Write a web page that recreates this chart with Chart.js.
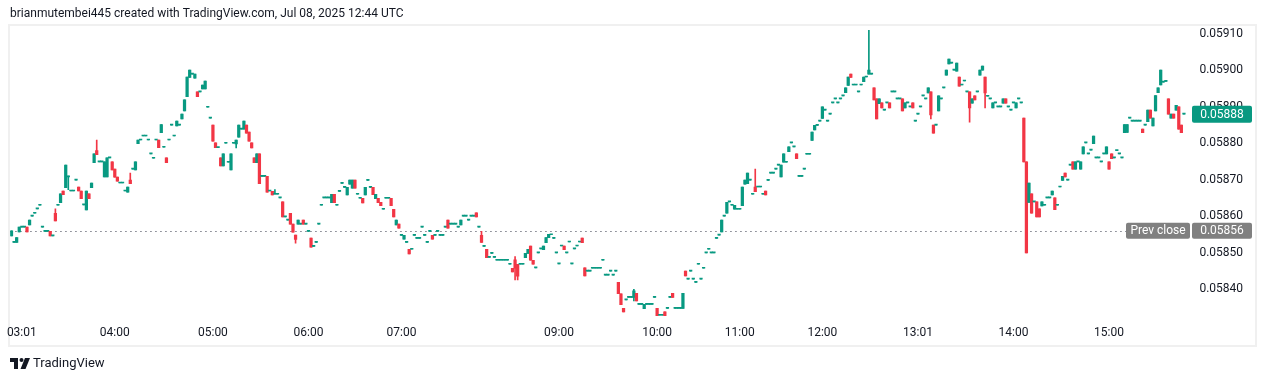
<!DOCTYPE html>
<html><head><meta charset="utf-8">
<script src="https://cdn.jsdelivr.net/npm/chart.js@4.4.1/dist/chart.umd.min.js"></script>
<style>html,body{margin:0;padding:0;background:#fff;overflow:hidden}canvas{display:block}</style>
</head><body>
<canvas id="c" width="1266" height="382"></canvas>
<script>
const open=[
0.058546,0.058528,0.058528,0.058557,0.05857,0.05857,0.05857,0.058576,0.0586,0.058608,
0.05862,0.05863,0.05857,0.058558,0.058558,0.058558,0.058546,0.058608,0.05863,0.058637,
0.058669,0.058678,0.058708,0.058669,0.058669,0.058699,0.05868,0.058669,0.058631,0.058617,
0.058661,0.058678,0.058747,0.05878,0.058749,0.058749,0.058708,0.058708,0.05876,0.058749,
0.058729,0.058707,0.058691,0.058691,0.058669,0.058666,0.058699,0.058729,0.058727,0.058799,
0.058809,0.05882,0.05882,0.058809,0.058771,0.058759,0.058809,0.058809,0.058829,0.058789,
0.05876,0.058809,0.05885,0.05882,0.058848,0.05885,0.058867,0.058889,0.058928,0.058981,
0.05899,0.058979,0.058941,0.058941,0.058949,0.058949,0.058899,0.058869,0.05885,0.058801,
0.058788,0.05876,0.058738,0.0588,0.058748,0.058727,0.0588,0.058798,0.058817,0.058839,
0.058839,0.05885,0.058831,0.058801,0.05876,0.058747,0.058771,0.058709,0.058709,0.058709,
0.058669,0.058668,0.05866,0.05866,0.05865,0.058639,0.058598,0.058589,0.058608,0.058578,
0.058548,0.058578,0.058578,0.058589,0.058578,0.058558,0.05854,0.058517,0.058528,0.058578,
0.05863,0.05865,0.05865,0.05865,0.058637,0.05866,0.05863,0.058668,0.05869,0.058679,
0.058658,0.058688,0.058677,0.058699,0.05866,0.058649,0.058649,0.058658,0.058698,0.058679,
0.058679,0.058648,0.058649,0.058638,0.058619,0.058649,0.058649,0.058649,0.058619,0.058576,
0.058578,0.058547,0.058537,0.058528,0.058509,0.058509,0.058547,0.058539,0.058539,0.05857,
0.058547,0.058528,0.058558,0.058547,0.058547,0.058558,0.058547,0.058547,0.05857,0.058589,
0.058578,0.058578,0.058578,0.05857,0.058576,0.0586,0.0586,0.058589,0.0586,0.0586,
0.058609,0.05857,0.058547,0.058517,0.058509,0.058487,0.058498,0.058487,0.058479,0.058479,
0.058479,0.058479,0.058479,0.058468,0.058457,0.05848,0.058468,0.058468,0.058468,0.058486,
0.058498,0.058518,0.058479,0.058458,0.058499,0.05851,0.058508,0.058527,0.058541,0.058549,
0.058539,0.058499,0.058469,0.058518,0.058518,0.058499,0.058529,0.058469,0.05851,0.058518,
0.058529,0.05854,0.058458,0.058449,0.058449,0.058457,0.058457,0.058457,0.058457,0.058479,
0.058438,0.058438,0.058449,0.058438,0.058449,0.058418,0.058387,0.058347,0.05837,0.058377,
0.058377,0.058377,0.058388,0.058358,0.058358,0.058346,0.058358,0.058358,0.058358,0.058377,
0.058347,0.058328,0.058328,0.058337,0.058347,0.058377,0.058388,0.058347,0.058347,0.058347,
0.058347,0.058449,0.058427,0.058449,0.058427,0.058418,0.058468,0.058427,0.058457,0.058499,
0.058509,0.058499,0.058499,0.058539,0.058548,0.058557,0.0586,0.058608,0.058639,0.05863,
0.058619,0.058619,0.058619,0.058629,0.058688,0.058689,0.058699,0.05866,0.05868,0.05868,
0.05868,0.05866,0.058669,0.058698,0.058718,0.058718,0.058729,0.05874,0.058708,0.058748,
0.058748,0.058777,0.058801,0.05879,0.058771,0.058709,0.058709,0.058729,0.05877,0.05877,
0.058808,0.058837,0.058849,0.058861,0.058868,0.058891,0.058861,0.05888,0.058911,0.058922,
0.058911,0.058922,0.05893,0.058939,0.058959,0.05899,0.05896,0.05896,0.058941,0.05896,
0.058969,0.058982,0.05899,0.05899,0.058952,0.058922,0.058909,0.058911,0.058891,0.058911,
0.058911,0.058941,0.058941,0.058922,0.058922,0.058922,0.058897,0.058911,0.0589,0.058911,
0.058861,0.05888,0.0589,0.05893,0.058922,0.058938,0.058941,0.05885,0.05885,0.058889,
0.058922,0.058952,0.058987,0.059018,0.05902,0.059001,0.058998,0.058982,0.05896,0.058971,
0.058941,0.058941,0.05891,0.05893,0.058941,0.058987,0.059001,0.058982,0.058929,0.058922,
0.058897,0.058911,0.0589,0.0589,0.05891,0.058922,0.0589,0.058891,0.058911,0.058897,
0.058922,0.058911,0.058869,0.058749,0.058638,0.058661,0.058639,0.058639,0.05862,0.058628,
0.05863,0.05865,0.05865,0.058658,0.05865,0.05863,0.05868,0.058698,0.058718,0.058699,
0.05874,0.058749,0.058729,0.058749,0.058729,0.058771,0.058801,0.058771,0.058781,0.058799,
0.05876,0.05876,0.058749,0.058771,0.058771,0.058749,0.058771,0.05876,0.05878,0.058771,
0.05876,0.058829,0.05883,0.058869,0.058861,0.058861,0.058861,0.058861,0.058839,0.05885,
0.058859,0.058891,0.058848,0.058889,0.058939,0.05896,0.058968,0.05897,0.058922,0.058869,
0.05888,0.058891,0.0589,0.05885,0.05888];
const high=[
0.05856,0.058528,0.058541,0.05857,0.05857,0.05857,0.05857,0.058589,0.0586,0.058608,
0.05862,0.05863,0.05857,0.058558,0.058558,0.058558,0.058546,0.05862,0.05863,0.058661,
0.058669,0.05874,0.05871,0.058669,0.058669,0.058699,0.05868,0.058669,0.058631,0.058669,
0.058661,0.058691,0.058771,0.058809,0.058749,0.058749,0.058749,0.05876,0.05876,0.058749,
0.058729,0.058707,0.058691,0.058691,0.058669,0.05868,0.058718,0.058729,0.058749,0.058809,
0.058809,0.05882,0.05882,0.058809,0.058771,0.058759,0.058809,0.058809,0.058851,0.058789,
0.05876,0.058809,0.05885,0.05882,0.058861,0.05885,0.05888,0.058919,0.058982,0.059001,
0.05899,0.05899,0.058941,0.058941,0.05896,0.058971,0.058899,0.058869,0.05885,0.058801,
0.058788,0.05876,0.058771,0.0588,0.058748,0.058771,0.0588,0.058809,0.05885,0.058839,
0.058861,0.05885,0.058831,0.058801,0.05876,0.058771,0.058771,0.058709,0.058709,0.058709,
0.058669,0.058668,0.058673,0.05866,0.05865,0.058639,0.058598,0.058589,0.058608,0.058578,
0.058548,0.058589,0.058578,0.058589,0.058578,0.058558,0.05854,0.058517,0.058528,0.058578,
0.05863,0.05865,0.05865,0.05865,0.05866,0.05866,0.05863,0.058668,0.05869,0.058679,
0.058679,0.058699,0.058699,0.058699,0.05866,0.058649,0.058649,0.058679,0.058698,0.058679,
0.058679,0.05866,0.058649,0.058638,0.058619,0.058649,0.058649,0.058649,0.058619,0.058589,
0.058578,0.058547,0.058547,0.058528,0.058509,0.058509,0.058547,0.058539,0.058539,0.05857,
0.058547,0.058528,0.058558,0.058547,0.058547,0.058558,0.058547,0.058547,0.05857,0.058589,
0.058578,0.058578,0.058578,0.05857,0.058589,0.0586,0.0586,0.058589,0.0586,0.0586,
0.058609,0.05857,0.058558,0.058517,0.058509,0.058487,0.058498,0.058487,0.058479,0.058479,
0.058479,0.058479,0.058479,0.058468,0.058457,0.058489,0.058468,0.058468,0.058468,0.058498,
0.058509,0.058518,0.058479,0.058458,0.058499,0.05851,0.058518,0.058541,0.05855,0.058549,
0.058539,0.058499,0.058469,0.058518,0.058518,0.058499,0.058529,0.058469,0.05851,0.058518,
0.058529,0.05854,0.058458,0.058449,0.058449,0.058457,0.058457,0.058457,0.058457,0.058479,
0.058438,0.058438,0.058449,0.058438,0.058449,0.058418,0.058387,0.058347,0.05837,0.058377,
0.058377,0.058399,0.058388,0.058358,0.058358,0.058358,0.058358,0.058358,0.058358,0.058377,
0.058347,0.058328,0.058328,0.058337,0.058347,0.058377,0.058388,0.058347,0.058347,0.058347,
0.058388,0.058449,0.058427,0.058449,0.058427,0.058418,0.058468,0.058427,0.058457,0.058499,
0.058509,0.058499,0.058499,0.058539,0.058548,0.058589,0.0586,0.058638,0.058639,0.05863,
0.05863,0.058619,0.058619,0.05868,0.058699,0.058718,0.058699,0.05866,0.058729,0.05868,
0.05868,0.05866,0.058669,0.058698,0.058718,0.058718,0.058729,0.05874,0.05874,0.058771,
0.058748,0.05879,0.058801,0.05879,0.058771,0.058709,0.058709,0.058729,0.05877,0.05877,
0.058831,0.058849,0.058849,0.058861,0.0589,0.058891,0.058861,0.05888,0.058911,0.058922,
0.058911,0.058922,0.05893,0.058952,0.058982,0.05899,0.05896,0.05896,0.058941,0.05896,
0.058982,0.058982,0.05911,0.05899,0.058952,0.058922,0.058922,0.058911,0.058891,0.058911,
0.058911,0.058941,0.058941,0.058922,0.058922,0.058922,0.058911,0.058911,0.0589,0.058911,
0.058861,0.05888,0.0589,0.05893,0.058922,0.058952,0.058941,0.05885,0.05885,0.05893,
0.058922,0.058952,0.059001,0.059031,0.05902,0.059001,0.05902,0.058982,0.05896,0.058971,
0.058941,0.058941,0.058922,0.05893,0.058941,0.059001,0.059012,0.058982,0.058929,0.058922,
0.058911,0.058911,0.0589,0.0589,0.058922,0.058922,0.0589,0.058891,0.058911,0.058911,
0.058922,0.058911,0.058869,0.058749,0.058691,0.058661,0.058639,0.058639,0.05862,0.058639,
0.05863,0.05865,0.05865,0.058669,0.05865,0.05863,0.05868,0.058709,0.058718,0.058699,
0.05874,0.058749,0.058749,0.058749,0.058749,0.05879,0.058801,0.058771,0.058781,0.05882,
0.05876,0.05876,0.058749,0.058771,0.05879,0.058749,0.058771,0.05876,0.05878,0.058771,
0.05876,0.058851,0.058851,0.058869,0.058861,0.058861,0.058861,0.058861,0.058839,0.05885,
0.058891,0.058891,0.058869,0.058931,0.058952,0.059001,0.058968,0.05897,0.058922,0.05888,
0.05888,0.058904,0.0589,0.05885,0.05888];
const low=[
0.058546,0.058528,0.058528,0.058557,0.05857,0.05857,0.058557,0.058576,0.0586,0.058608,
0.05862,0.05863,0.05857,0.058558,0.058558,0.058546,0.058546,0.058587,0.05863,0.058637,
0.058659,0.058678,0.058673,0.058669,0.058669,0.058699,0.058669,0.058648,0.058631,0.058617,
0.058648,0.058678,0.058747,0.058769,0.058749,0.058749,0.058708,0.058708,0.05876,0.058727,
0.058707,0.058696,0.058691,0.058691,0.058669,0.058666,0.058689,0.058729,0.058727,0.058799,
0.058809,0.05882,0.05882,0.058809,0.058771,0.058759,0.058809,0.058788,0.058829,0.058789,
0.058747,0.058809,0.05885,0.05882,0.058848,0.05885,0.058867,0.058889,0.058928,0.058981,
0.05899,0.058979,0.058928,0.058941,0.058949,0.058949,0.058899,0.058869,0.058806,0.058788,
0.058788,0.058738,0.058738,0.0588,0.058748,0.058727,0.0588,0.058787,0.058817,0.058839,
0.058839,0.058828,0.058806,0.058787,0.058747,0.058747,0.058689,0.058709,0.058709,0.058666,
0.058669,0.058658,0.05866,0.05866,0.05865,0.058598,0.058598,0.058589,0.058578,0.058556,
0.058526,0.058578,0.058578,0.058578,0.058578,0.058558,0.058515,0.058517,0.058528,0.058578,
0.05863,0.05865,0.05865,0.05865,0.058637,0.058637,0.05863,0.058668,0.05869,0.058679,
0.058658,0.058688,0.058677,0.058677,0.05866,0.058649,0.058636,0.058658,0.058698,0.058679,
0.058659,0.058648,0.058637,0.058629,0.058619,0.058649,0.058649,0.058629,0.058598,0.058576,
0.058567,0.058547,0.058537,0.058528,0.058496,0.058509,0.058547,0.058539,0.058539,0.05857,
0.058547,0.058528,0.058558,0.058537,0.058547,0.058558,0.058547,0.058547,0.05857,0.058567,
0.058578,0.058578,0.058578,0.05857,0.058576,0.0586,0.0586,0.058589,0.0586,0.0586,
0.058598,0.05857,0.058528,0.058517,0.058486,0.058487,0.058498,0.058487,0.058479,0.058479,
0.058479,0.058479,0.058479,0.058468,0.058447,0.058425,0.058425,0.058468,0.058468,0.058486,
0.058498,0.058479,0.058468,0.058458,0.058499,0.05851,0.058508,0.058527,0.058541,0.058549,
0.058539,0.058499,0.058469,0.058518,0.058508,0.058499,0.058529,0.058469,0.05851,0.058518,
0.058529,0.058527,0.058436,0.058449,0.058449,0.058457,0.058457,0.058457,0.058457,0.058479,
0.058438,0.058438,0.058449,0.058438,0.058449,0.058387,0.058357,0.058337,0.05837,0.058377,
0.058377,0.058367,0.058367,0.058358,0.058358,0.058346,0.058358,0.058358,0.058358,0.058377,
0.058327,0.058328,0.058328,0.058327,0.058347,0.058377,0.058377,0.058347,0.058347,0.058347,
0.058347,0.058436,0.058427,0.058449,0.058427,0.058418,0.058468,0.058427,0.058457,0.058499,
0.058509,0.058499,0.058499,0.058539,0.058548,0.058557,0.0586,0.058608,0.058639,0.05863,
0.058619,0.058619,0.058619,0.058629,0.058688,0.058689,0.058699,0.05866,0.058667,0.05868,
0.05868,0.05866,0.058658,0.058698,0.058718,0.058718,0.058729,0.05874,0.058708,0.058748,
0.058748,0.058777,0.058801,0.05879,0.058758,0.058709,0.058709,0.058729,0.05877,0.05877,
0.058808,0.058837,0.058849,0.058861,0.058868,0.058891,0.058861,0.05888,0.058911,0.058922,
0.058911,0.058922,0.05893,0.058939,0.058959,0.058981,0.05896,0.05896,0.058941,0.05896,
0.058969,0.058982,0.05899,0.05899,0.058919,0.058867,0.058909,0.058897,0.058891,0.058911,
0.058897,0.058941,0.058941,0.058922,0.058922,0.058889,0.058897,0.058911,0.0589,0.058897,
0.058861,0.05888,0.0589,0.05893,0.058922,0.058938,0.058867,0.058828,0.05885,0.058889,
0.058922,0.058952,0.058987,0.059018,0.05902,0.059001,0.058998,0.058957,0.05896,0.058971,
0.058941,0.058858,0.05891,0.058919,0.058941,0.058987,0.059001,0.058897,0.058929,0.058922,
0.058897,0.058911,0.0589,0.0589,0.05891,0.05891,0.0589,0.058891,0.058911,0.058897,
0.058922,0.058911,0.058749,0.058499,0.058638,0.058608,0.058639,0.058598,0.058598,0.058628,
0.05863,0.05865,0.05865,0.058658,0.058618,0.05863,0.05868,0.058698,0.058708,0.058699,
0.05874,0.058729,0.058729,0.058749,0.058729,0.058771,0.058801,0.058771,0.058781,0.058799,
0.05876,0.05876,0.058749,0.058771,0.058771,0.058729,0.058758,0.05876,0.05878,0.058771,
0.05876,0.058829,0.05883,0.058869,0.058861,0.058861,0.058861,0.058861,0.058829,0.05885,
0.058859,0.058869,0.058848,0.058889,0.058939,0.05896,0.058968,0.05897,0.05888,0.058869,
0.058869,0.058891,0.058839,0.058829,0.05888];
const close=[
0.05856,0.058528,0.058541,0.05857,0.05857,0.05857,0.058557,0.058589,0.0586,0.058608,
0.05862,0.05863,0.05857,0.058558,0.058558,0.058546,0.058546,0.058587,0.05863,0.058661,
0.058659,0.05874,0.05871,0.058669,0.058669,0.058699,0.058669,0.058648,0.058631,0.058669,
0.058648,0.058691,0.058771,0.058769,0.058749,0.058749,0.058749,0.05876,0.05876,0.058727,
0.058707,0.058696,0.058691,0.058691,0.058669,0.05868,0.058689,0.058729,0.058749,0.058809,
0.058809,0.05882,0.05882,0.058809,0.058771,0.058759,0.058809,0.058788,0.058851,0.058789,
0.058747,0.058809,0.05885,0.05882,0.058861,0.05885,0.05888,0.058919,0.058982,0.059001,
0.05899,0.05899,0.058928,0.058941,0.05896,0.058971,0.058899,0.058869,0.058806,0.058788,
0.058788,0.058738,0.058771,0.0588,0.058748,0.058771,0.0588,0.058809,0.05885,0.058839,
0.058861,0.058828,0.058806,0.058787,0.058747,0.058771,0.058689,0.058709,0.058709,0.058666,
0.058669,0.058658,0.05866,0.05866,0.05865,0.058598,0.058598,0.058589,0.058578,0.058556,
0.058536,0.058589,0.058578,0.058578,0.058578,0.058558,0.058515,0.058517,0.058528,0.058578,
0.05863,0.05865,0.05865,0.05865,0.05866,0.058637,0.05863,0.058668,0.05869,0.058679,
0.058679,0.058699,0.058699,0.058677,0.05866,0.058649,0.058636,0.058679,0.058698,0.058679,
0.058659,0.05866,0.058637,0.058629,0.058619,0.058649,0.058649,0.058629,0.058598,0.058589,
0.058567,0.058547,0.058547,0.058528,0.058496,0.058509,0.058547,0.058539,0.058539,0.05857,
0.058547,0.058528,0.058558,0.058537,0.058547,0.058558,0.058547,0.058547,0.05857,0.058567,
0.058578,0.058578,0.058578,0.05857,0.058589,0.0586,0.0586,0.058589,0.0586,0.0586,
0.058598,0.05857,0.058528,0.058517,0.058486,0.058487,0.058498,0.058487,0.058479,0.058479,
0.058479,0.058479,0.058479,0.058468,0.058447,0.058457,0.058435,0.058468,0.058468,0.058498,
0.058509,0.058479,0.058468,0.058458,0.058499,0.05851,0.058518,0.058541,0.05855,0.058549,
0.058539,0.058499,0.058469,0.058518,0.058508,0.058499,0.058529,0.058469,0.05851,0.058518,
0.058529,0.058527,0.058436,0.058449,0.058449,0.058457,0.058457,0.058457,0.058457,0.058479,
0.058438,0.058438,0.058449,0.058438,0.058449,0.058387,0.058357,0.058337,0.05837,0.058377,
0.058377,0.058395,0.058367,0.058358,0.058358,0.058358,0.058358,0.058358,0.058358,0.058377,
0.058327,0.058328,0.058328,0.058327,0.058347,0.058377,0.058377,0.058347,0.058347,0.058347,
0.058388,0.058436,0.058427,0.058449,0.058427,0.058418,0.058468,0.058427,0.058457,0.058499,
0.058509,0.058499,0.058499,0.058539,0.058548,0.058589,0.0586,0.058638,0.058639,0.05863,
0.05863,0.058619,0.058619,0.05868,0.058699,0.058718,0.058699,0.05866,0.058667,0.05868,
0.05868,0.05866,0.058658,0.058698,0.058718,0.058718,0.058729,0.05874,0.05874,0.058771,
0.058748,0.05879,0.058801,0.05879,0.058758,0.058709,0.058709,0.058729,0.05877,0.05877,
0.058831,0.058849,0.058849,0.058861,0.0589,0.058891,0.058861,0.05888,0.058911,0.058922,
0.058911,0.058922,0.05893,0.058952,0.058982,0.058981,0.05896,0.05896,0.058941,0.05896,
0.058982,0.058982,0.059001,0.05899,0.058919,0.058867,0.058922,0.058897,0.058891,0.058911,
0.058897,0.058941,0.058941,0.058922,0.058922,0.058889,0.058911,0.058911,0.0589,0.058897,
0.058861,0.05888,0.0589,0.05893,0.058922,0.058952,0.058878,0.058828,0.05885,0.05893,
0.058922,0.058952,0.059001,0.059031,0.05902,0.059001,0.05902,0.058957,0.05896,0.058971,
0.058941,0.058897,0.058922,0.058919,0.058941,0.059001,0.059012,0.058938,0.058929,0.058922,
0.058911,0.058911,0.0589,0.0589,0.058922,0.05891,0.0589,0.058891,0.058911,0.058911,
0.058922,0.058911,0.058749,0.058499,0.058691,0.058608,0.058639,0.058598,0.058598,0.058639,
0.05863,0.05865,0.05865,0.058669,0.058618,0.05863,0.05868,0.058709,0.058708,0.058699,
0.05874,0.058729,0.058749,0.058749,0.058749,0.05879,0.058801,0.058771,0.058781,0.05882,
0.05876,0.05876,0.058749,0.058771,0.05879,0.058729,0.058758,0.05876,0.05878,0.058771,
0.05876,0.058851,0.058851,0.058869,0.058861,0.058861,0.058861,0.058861,0.058829,0.05885,
0.058891,0.058869,0.058869,0.058931,0.058952,0.059001,0.058968,0.05897,0.05888,0.05888,
0.058869,0.058904,0.058839,0.058829,0.05888];

const tickIdx=[4,40,78,115,151,212,250,282,314,351,388,425];
const tickText=['03:01','04:00','05:00','06:00','07:00','09:00','10:00','11:00','12:00','13:01','14:00','15:00'];
const yTicks=[0.0584,0.0585,0.0586,0.0587,0.0588,0.0589,0.0590,0.0591];
const prevClose=0.05856;
const lastPrice=0.05888;
const headerText='brianmutembei445 created with TradingView.com, Jul 08, 2025 12:44 UTC';
const brandText='TradingView';

const UP='#089981', DOWN='#F23645', INK='#131722', GRAY='#808080';
const FONT='Roboto, "Liberation Sans", sans-serif';
const padSlots=2;
const nSlots=open.length+padSlots;
const labels=Array.from({length:nSlots},(_,i)=>{const k=tickIdx.indexOf(i);return k>=0?tickText[k]:'';});
const bodies=open.map((o,i)=>[o,close[i]]);
const wicks=low.map((l,i)=>[l,high[i]]);
const colors=open.map((o,i)=>close[i]>=o?UP:DOWN);

function rr(ctx,x,y,w,h,r){ctx.beginPath();ctx.moveTo(x+r,y);ctx.lineTo(x+w-r,y);ctx.quadraticCurveTo(x+w,y,x+w,y+r);ctx.lineTo(x+w,y+h-r);ctx.quadraticCurveTo(x+w,y+h,x+w-r,y+h);ctx.lineTo(x+r,y+h);ctx.quadraticCurveTo(x,y+h,x,y+h-r);ctx.lineTo(x,y+r);ctx.quadraticCurveTo(x,y,x+r,y);ctx.closePath();}

const decor={
  id:'decor',
  beforeDraw(chart){
    const ctx=chart.ctx;
    ctx.save();
    ctx.fillStyle='#ffffff';ctx.fillRect(0,0,chart.width,chart.height);
    ctx.strokeStyle='#f0f0f0';ctx.lineWidth=2;
    ctx.strokeRect(9,25,1247,321);
    ctx.restore();
  },
  beforeDatasetsDraw(chart){
    const ctx=chart.ctx, y=chart.scales.y, a=chart.chartArea;
    const py=Math.round(y.getPixelForValue(prevClose))+0.5;
    ctx.save();
    ctx.strokeStyle='#787b86';ctx.lineWidth=1;ctx.setLineDash([1.5,3.5]);
    ctx.beginPath();ctx.moveTo(a.left,py);ctx.lineTo(1126,py);ctx.stroke();
    ctx.restore();
  },
  afterDraw(chart){
    const ctx=chart.ctx, y=chart.scales.y;
    ctx.save();
    // prev close labels
    const py=y.getPixelForValue(prevClose);
    ctx.fillStyle=GRAY;
    rr(ctx,1126,py-8,64,16,2);ctx.fill();
    rr(ctx,1192,py-8,60,16,2);ctx.fill();
    ctx.fillStyle='#ffffff';ctx.font='12px '+FONT;ctx.textBaseline='middle';ctx.textAlign='center';
    ctx.fillText('Prev close',1158,py+0.5);
    ctx.fillText(prevClose.toFixed(5),1222,py+0.5);
    // last price label
    const ly=y.getPixelForValue(lastPrice);
    ctx.fillStyle=UP;
    rr(ctx,1192,ly-8.5,60,17,2);ctx.fill();
    ctx.fillStyle='#ffffff';
    ctx.fillText(lastPrice.toFixed(5),1222,ly+0.5);
    // header
    ctx.fillStyle=INK;ctx.textAlign='left';ctx.font='12px '+FONT;
    ctx.fillText(headerText,10,14);
    // logo
    ctx.fillStyle=INK;
    ctx.fillRect(10,358,8,4);
    ctx.fillRect(14,358,4,11);
    ctx.beginPath();ctx.arc(21.5,360,2,0,Math.PI*2);ctx.fill();
    ctx.beginPath();ctx.moveTo(25,358);ctx.lineTo(30,358);ctx.lineTo(25.5,369);ctx.lineTo(20.5,369);ctx.closePath();ctx.fill();
    ctx.font='13px '+FONT;
    ctx.fillText(brandText,33,364);
    ctx.restore();
  }
};

new Chart(document.getElementById('c'),{
  type:'bar',
  data:{labels,datasets:[
    {label:'wick',data:wicks,backgroundColor:colors,barThickness:1,grouped:false,order:2},
    {label:'body',data:bodies,backgroundColor:colors,categoryPercentage:1,barPercentage:1,minBarLength:1,grouped:false,order:1}
  ]},
  options:{
    responsive:false,animation:false,devicePixelRatio:1,
    layout:{padding:{left:10.2,right:11,top:25,bottom:36}},
    plugins:{legend:{display:false},tooltip:{enabled:false}},
    scales:{
      x:{type:'category',grid:{display:false,drawTicks:false},border:{display:false},
        afterBuildTicks(s){s.ticks=s.ticks.filter(t=>tickIdx.includes(t.value));},
        afterFit(s){s.height=24;},
        ticks:{autoSkip:false,maxRotation:0,minRotation:0,padding:4,color:INK,font:{family:FONT,size:12}}},
      y:{position:'right',min:0.0583094,max:0.0591247,grid:{display:false,drawTicks:false},border:{display:false},
        afterBuildTicks(s){s.ticks=yTicks.map(v=>({value:v}));},
        afterFit(s){s.width=64.6;},
        ticks:{padding:9,color:INK,font:{family:FONT,size:12},callback:v=>Number(v).toFixed(5)}}
    }
  },
  plugins:[decor]
});
</script>
</body></html>
